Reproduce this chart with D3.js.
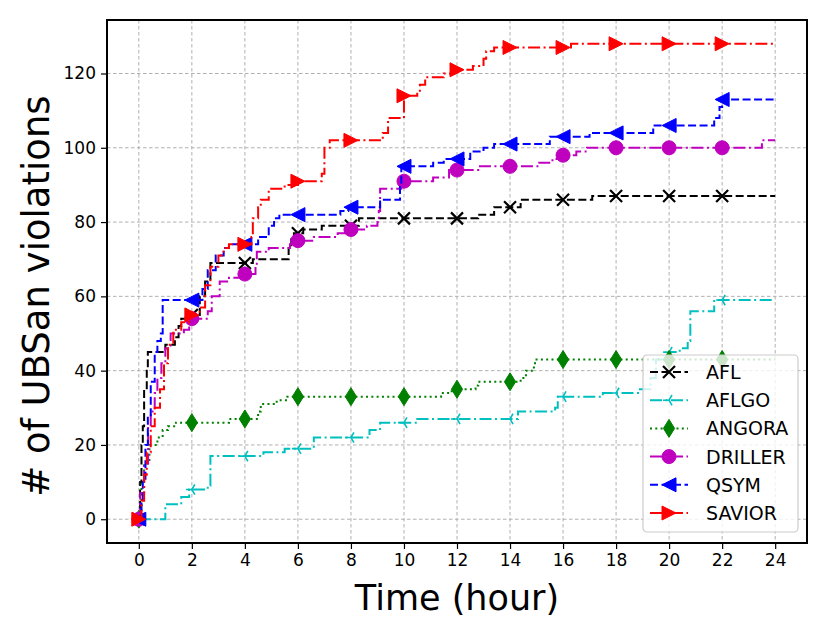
<!DOCTYPE html>
<html>
<head>
<meta charset="utf-8">
<script src="https://cdn.jsdelivr.net/npm/d3@7"></script>
<style>
	body { margin: 0; background: #fff; }
	text { font-family: "DejaVu Sans", sans-serif; }
</style>
</head>
<body>
<div id="chart"></div>
<script>
// step curves: [hour, violations found so far]
var aflData = [[0,0],[0.05,10],[0.1,20],[0.15,25],[0.2,35],[0.3,40],[0.34,45],[1.0,47],[1.36,49],[1.5,52],[1.6,54],[1.9,55],
	[2.3,60],[2.5,64],[2.7,69],[4.3,70],[5.65,73],[5.75,76],[5.85,77],[6.2,78],[6.9,79],[8.3,81],[12.8,82],[13.4,84],
	[14.4,86],[17.1,87],[24,87]];
var aflgoData = [[0,0],[0.9,0],[1.0,4],[1.6,6],[1.9,8],[2.6,9],[2.7,17],[4.7,18],[5.5,19],[6.6,22],[8.7,24],[9.1,26],
	[10.5,27],[14.3,29],[15.7,30],[15.8,33],[17.5,34],[18.9,35],[19.3,38],[19.5,43],[20.0,45],[20.4,46],[20.7,48],
	[20.8,56],[21.7,59],[24,59]];
var angoraData = [[0,0],[0.1,10],[0.2,15],[0.4,20],[0.7,22],[0.9,24],[1.1,25],[1.4,26],[3.4,27],[4.5,29],[4.6,31],
	[5.2,32],[5.6,33],[11.4,34],[11.8,35],[12.7,36],[12.8,37],[14.4,38],[14.6,40],[14.9,42],[15.0,43],[24,43]];
var drillerData = [[0,0],[0.05,7],[0.2,15],[0.35,25],[0.45,29],[0.6,34],[0.7,38],[0.85,42],[1.0,46],[1.2,50],[1.7,51],
	[1.9,54],[2.6,56],[2.75,60],[3.05,64],[3.4,65],[3.9,66],[4.4,68],[4.45,72],[4.9,73],[5.7,74],[5.8,75],[6.6,76],
	[7.5,77],[7.9,78],[8.6,79],[9.0,80],[9.05,83],[9.1,89],[9.9,91],[11.1,92],[11.7,94],[12.8,95],[15.1,96],[15.6,97],
	[15.9,98],[16.5,99],[16.9,100],[23.5,102],[24,102]];
var qsymData = [[0,0],[0.1,5],[0.15,10],[0.25,20],[0.34,28],[0.45,37],[0.6,45],[0.7,48],[0.83,50],[0.9,59],[2.4,62],
	[2.6,67],[2.9,71],[3.2,73],[3.4,74],[4.5,76],[4.9,79],[5.1,81],[5.3,82],[7.6,83],[7.9,84],[9.1,86],[9.85,90],
	[9.9,95],[11.1,96],[11.5,97],[12.5,99],[13.0,100],[13.4,101],[15.5,103],[17.0,104],[19.4,106],[21.7,108],
	[21.9,111],[22.0,113],[24,113]];
var saviorData = [[0,0],[0.1,5],[0.2,12],[0.3,18],[0.45,25],[0.6,30],[0.8,35],[0.95,42],[1.1,47],[1.3,51],[1.6,53],
	[1.9,55],[2.3,57],[2.5,63],[2.7,68],[3.0,71],[3.2,73],[3.4,74],[4.25,76],[4.3,81],[4.5,84],[4.6,86],[4.9,89],
	[5.5,90],[6.0,91],[6.9,93],[7.0,100],[7.2,102],[9.2,104],[9.4,108],[10.0,114],[10.5,115],[10.6,117],[10.8,119],
	[11.5,120],[11.9,121],[12.6,122],[13.0,124],[13.1,126],[13.4,127],[16.3,128],[24,128]];

var seriesNames = ["AFL", "AFLGO", "ANGORA", "DRILLER", "QSYM", "SAVIOR"];
var seriesData = [aflData, aflgoData, angoraData, drillerData, qsymData, saviorData];
var markerHours = [0, 2, 4, 6, 8, 10, 12, 14, 16, 18, 20, 22];
var xTicks = [0, 2, 4, 6, 8, 10, 12, 14, 16, 18, 20, 22, 24];
var yTicks = [0, 20, 40, 60, 80, 100, 120];

// look of each series (matplotlib style)
var styles = {
	AFL:     {color: "#000000", dash: "8,3.5", marker: "x"},
	AFLGO:   {color: "#00bfbf", dash: "12,3.5,2,3.5", marker: "tri"},
	ANGORA:  {color: "#008000", dash: "2,3.3", marker: "diamond"},
	DRILLER: {color: "#bf00bf", dash: "12,3.5,2,3.5", marker: "circle"},
	QSYM:    {color: "#0000ff", dash: "8,3.5", marker: "left"},
	SAVIOR:  {color: "#ff0000", dash: "12,3.5,2,3.5", marker: "right"}
};

function markerPath(kind) {
	var h = 7;
	if (kind == "x") return "M-6,-6L6,6M-6,6L6,-6";
	if (kind == "tri") return "M0,0L-6,0M0,0L3,-5.2M0,0L3,5.2";
	if (kind == "diamond") return "M0,-9L5.6,0L0,9L-5.6,0Z";
	if (kind == "left") return "M-" + h + ",0L" + h + ",-" + h + "L" + h + "," + h + "Z";
	if (kind == "right") return "M" + h + ",0L-" + h + ",-" + h + "L-" + h + "," + h + "Z";
	return d3.symbol().type(d3.symbolCircle).size(Math.PI * 49)();
}

function drawMarker(g, kind, color) {
	var p = g.append("path").attr("d", markerPath(kind));
	if (kind == "x" || kind == "tri") {
		p.attr("fill", "none").attr("stroke", color).attr("stroke-width", kind == "x" ? 2.2 : 1.6);
	} else {
		p.attr("fill", color).attr("stroke", color).attr("stroke-width", 1);
	}
}

// value of a step curve at a given hour
function valueAt(data, t) {
	var v = data[0][1];
	data.forEach(function(d) { if (d[0] <= t) v = d[1]; });
	return v;
}

var margin = {top: 20, right: 23, bottom: 89, left: 107},
	width = 830 - margin.left - margin.right,
	height = 632 - margin.top - margin.bottom;

var x = d3.scaleLinear().domain([-1.2, 25.2]).range([0, width]);
var y = d3.scaleLinear().domain([-6.4, 134.4]).range([height, 0]);

var svg = d3.select("#chart")
	.append("svg")
	.attr("width", 830)
	.attr("height", 632)
	.append("g")
	.attr("transform", "translate(" + margin.left + "," + margin.top + ")");

// grid
svg.append("g").selectAll("line").data(xTicks).enter().append("line")
	.attr("x1", function(d) { return x(d); }).attr("x2", function(d) { return x(d); })
	.attr("y1", 0).attr("y2", height)
	.attr("stroke", "#b0b0b0").attr("stroke-width", 1).attr("stroke-dasharray", "3.5,2.5");
svg.append("g").selectAll("line").data(yTicks).enter().append("line")
	.attr("y1", function(d) { return y(d); }).attr("y2", function(d) { return y(d); })
	.attr("x1", 0).attr("x2", width)
	.attr("stroke", "#b0b0b0").attr("stroke-width", 1).attr("stroke-dasharray", "3.5,2.5");

// the curves
var line = d3.line()
	.curve(d3.curveStepAfter)
	.x(function(d) { return x(d[0]); })
	.y(function(d) { return y(d[1]); });

seriesNames.forEach(function(name, i) {
	var st = styles[name];
	svg.append("path")
		.datum(seriesData[i])
		.attr("d", line)
		.attr("fill", "none")
		.attr("stroke", st.color)
		.attr("stroke-width", 2)
		.attr("stroke-dasharray", st.dash);
	markerHours.forEach(function(t) {
		var g = svg.append("g")
			.attr("transform", "translate(" + x(t) + "," + y(valueAt(seriesData[i], t)) + ")");
		drawMarker(g, st.marker, st.color);
	});
});

// axes
var xAxis = svg.append("g")
	.attr("transform", "translate(0," + height + ")")
	.call(d3.axisBottom(x).tickValues(xTicks).tickSize(6).tickPadding(5));
var yAxis = svg.append("g")
	.call(d3.axisLeft(y).tickValues(yTicks).tickSize(6).tickPadding(5));
[xAxis, yAxis].forEach(function(a) {
	a.select(".domain").remove();
	a.selectAll("line").attr("stroke", "#000").attr("stroke-width", 1.2);
	a.selectAll("text").style("font-size", "17px").style("font-family", "DejaVu Sans").attr("fill", "#000");
});

// frame
svg.append("rect")
	.attr("width", width).attr("height", height)
	.attr("fill", "none").attr("stroke", "#000").attr("stroke-width", 2);

// axis labels
svg.append("text")
	.attr("x", width / 2)
	.attr("y", height + 67)
	.style("text-anchor", "middle")
	.style("font-size", "35px")
	.text("Time (hour)");
svg.append("text")
	.attr("transform", "rotate(-90)")
	.attr("x", -(296 - margin.top))
	.attr("y", -58)
	.style("text-anchor", "middle")
	.style("font-size", "37px")
	.text("# of UBSan violations");

// legend
var legend = svg.append("g").attr("transform", "translate(" + (643 - margin.left) + "," + (355 - margin.top) + ")");
legend.append("rect")
	.attr("width", 155).attr("height", 177).attr("rx", 4)
	.attr("fill", "#fff").attr("fill-opacity", 0.8)
	.attr("stroke", "#cccccc").attr("stroke-width", 1.2);
seriesNames.forEach(function(name, i) {
	var st = styles[name];
	var row = legend.append("g").attr("transform", "translate(0," + (17 + i * 28.2) + ")");
	row.append("line")
		.attr("x1", 7).attr("x2", 45)
		.attr("stroke", st.color).attr("stroke-width", 2)
		.attr("stroke-dasharray", st.dash);
	var g = row.append("g").attr("transform", "translate(26,0)");
	drawMarker(g, st.marker, st.color);
	row.append("text")
		.attr("x", 63).attr("y", 7)
		.style("font-size", "19px")
		.text(name);
});
</script>
</body>
</html>
